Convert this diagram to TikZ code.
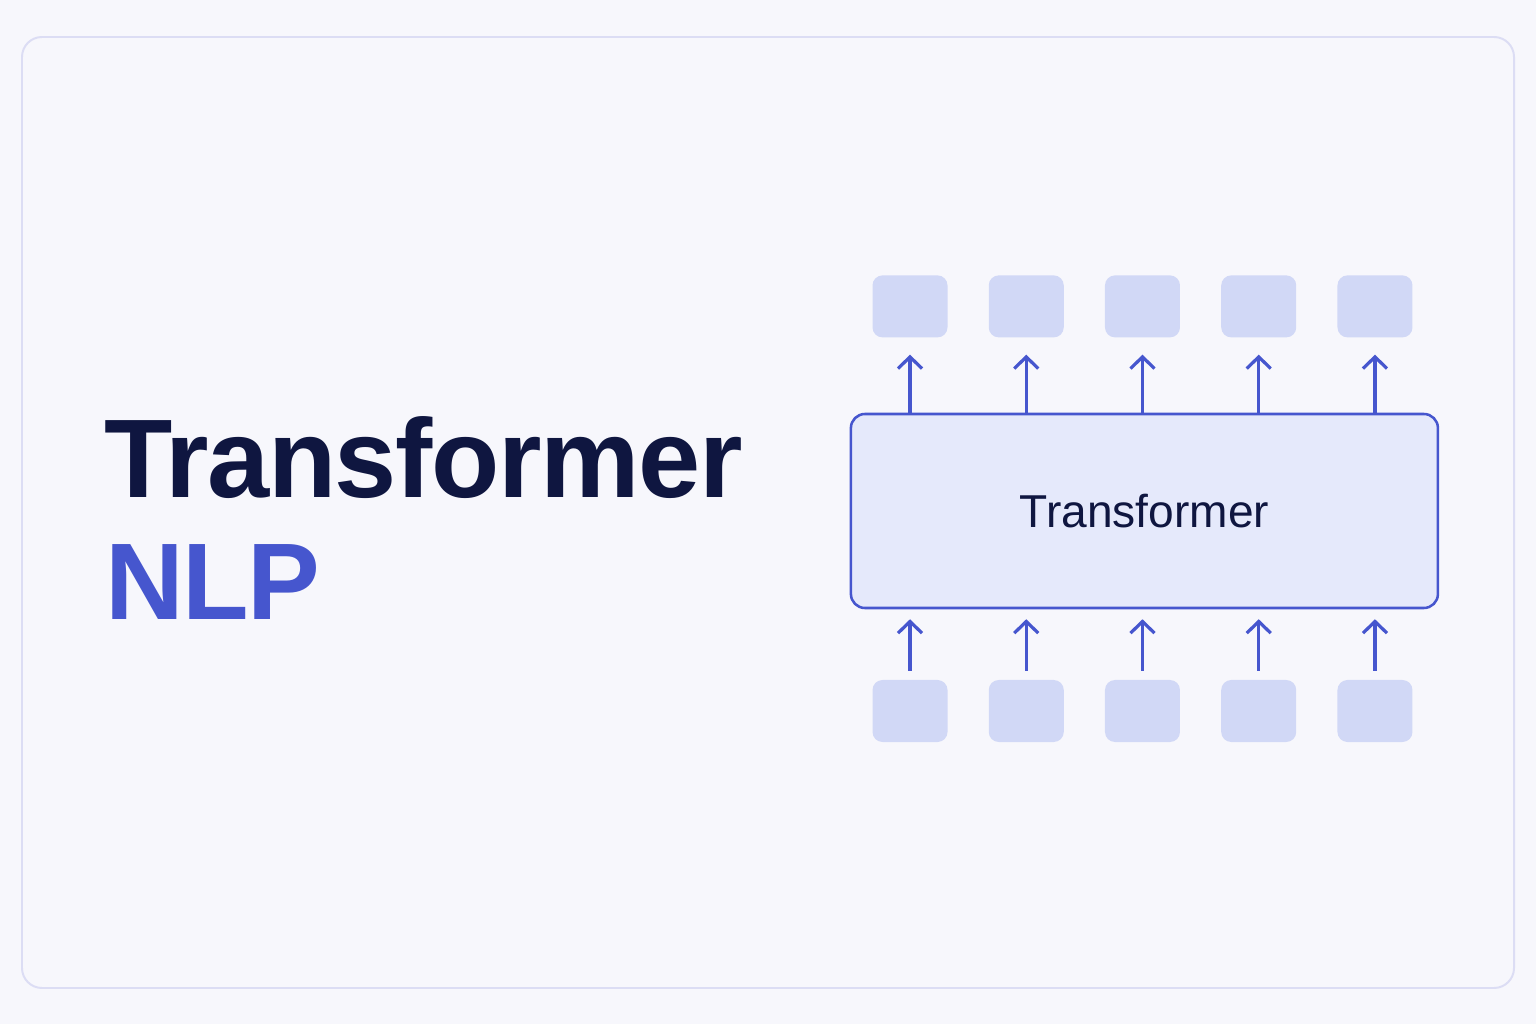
\documentclass[tikz,border=0pt]{standalone}
\usepackage{fontspec}
\setmainfont{Liberation Sans}
\newfontfamily\headfont{Liberation Sans}[LetterSpace=-1.2]
\usetikzlibrary{arrows.meta,positioning}
\definecolor{pagebg}{HTML}{F7F7FC}
\definecolor{cardline}{HTML}{DCDDF4}
\definecolor{navy}{HTML}{0F1640}
\definecolor{accent}{HTML}{4656CE}
\definecolor{corefill}{HTML}{E5E9FB}
\definecolor{tokfill}{HTML}{D1D8F6}
\tikzset{
  token/.style={rectangle, rounded corners=0.25cm, fill=tokfill, minimum width=1.875cm, minimum height=1.55cm, inner sep=0pt},
  core/.style={rectangle, rounded corners=0.35cm, draw=accent, line width=1.8pt, fill=corefill, minimum width=14.675cm, minimum height=4.85cm, text=navy, font=\fontsize{32.8}{36}\selectfont},
  flow/.style={->, draw=accent, line width=2.3pt}
}
\begin{document}
\begin{tikzpicture}[>={Straight Barb[length=2.9mm,width=6mm]}]
\useasboundingbox (0,0) rectangle (38.4,25.6);
\fill[pagebg] (0,0) rectangle (38.4,25.6);
\draw[cardline, line width=1.4pt, rounded corners=0.5cm] (0.55,0.9) rectangle (37.85,24.675);
% headline
\node[anchor=base west, inner sep=0pt, text=navy, font=\headfont\bfseries\fontsize{79.5}{90}\selectfont] (title) at (2.6,13.15) {Transformer};
\node[anchor=base west, inner sep=0pt, text=accent, font=\headfont\bfseries\fontsize{77.5}{90}\selectfont] (nlp) at (2.62,10.1) {NLP};
% model block
\node[core] (model) at (28.61,12.825) {Transformer};
\foreach \i in {1,...,5}{
  \node[token] (out\i) at ({22.75+(\i-1)*2.906},17.94) {};
  \node[token] (in\i) at ({22.75+(\i-1)*2.906},7.825) {};
  \draw[flow, shorten >=0.425cm] (model.north -| out\i) -- (out\i.south);
  \draw[flow, shorten <=0.225cm, shorten >=0.25cm] (in\i.north) -- (in\i.north |- model.south);
}
\end{tikzpicture}
\end{document}
